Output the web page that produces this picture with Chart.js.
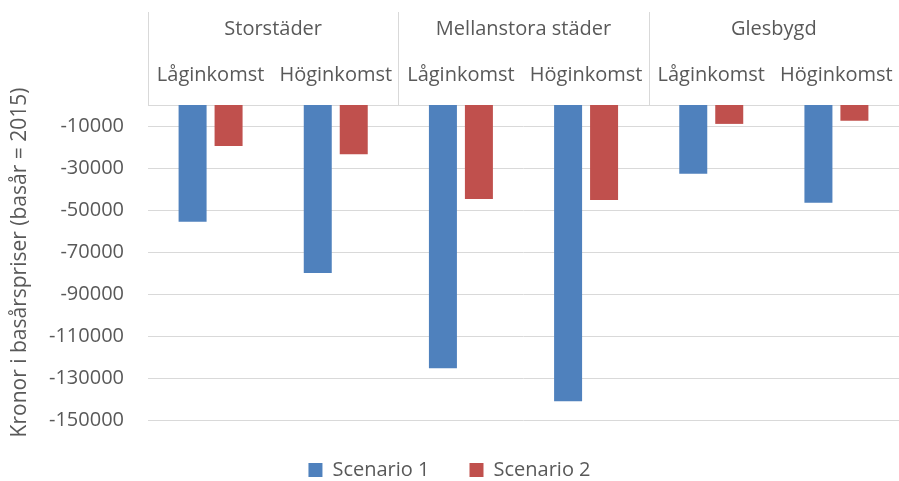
<!DOCTYPE html>
<html>
<head>
<meta charset="utf-8">
<script src="https://cdn.jsdelivr.net/npm/chart.js@4/dist/chart.umd.min.js"></script>
<style>
  html, body { margin: 0; padding: 0; background: #fff; }
  #wrap { width: 899px; height: 481px; }
</style>
</head>
<body>
<div id="wrap"><canvas id="chartIncome"></canvas></div>
<script>
// data
var groups = ["Storstäder", "Mellanstora städer", "Glesbygd"];
var incomeLevels = ["Låginkomst", "Höginkomst", "Låginkomst", "Höginkomst", "Låginkomst", "Höginkomst"];
var scenario1 = [-55600, -80000, -125400, -141100, -32700, -46500];
var scenario2 = [-19500, -23500, -44800, -45200, -9000, -7500];
var yTicks = [-150000, -130000, -110000, -90000, -70000, -50000, -30000, -10000];

var textColor = "#595959";
var gridColor = "#D9D9D9";
var font = { family: "'Open Sans', 'Noto Sans', sans-serif", size: 20 };

// vertical separators between the groups in the top axis (none on the far right)
var groupLines = {
  id: "groupLines",
  afterDraw: function (chart) {
    var x = chart.scales.x, x2 = chart.scales.x2;
    var c = chart.ctx;
    var step = (x.right - x.left) / incomeLevels.length;
    c.save();
    c.strokeStyle = gridColor;
    c.lineWidth = 1;
    for (var g = 0; g < groups.length; g++) {
      var px = Math.round(x.left + step * 2 * g) + 0.5;
      c.beginPath();
      c.moveTo(px, x2.top - 1);
      c.lineTo(px, x.bottom);
      c.stroke();
    }
    c.restore();
  }
};

function noSidePadding(scale) {
  scale.paddingLeft = 0;
  scale.paddingRight = 0;
}

var ctx = document.getElementById("chartIncome").getContext("2d");
var myChart = new Chart(ctx, {
  type: "bar",
  plugins: [groupLines],
  data: {
    labels: incomeLevels,
    datasets: [
      {
        label: "Scenario 1",
        backgroundColor: "#4F81BD",
        borderWidth: 0,
        data: scenario1,
        categoryPercentage: 0.575,
        barPercentage: 0.778
      },
      {
        label: "Scenario 2",
        backgroundColor: "#C0504D",
        borderWidth: 0,
        data: scenario2,
        categoryPercentage: 0.575,
        barPercentage: 0.778
      }
    ]
  },
  options: {
    responsive: true,
    maintainAspectRatio: false,
    animation: false,
    layout: { padding: { top: 13, left: 0, right: 0, bottom: -9 } },
    plugins: {
      tooltip: { enabled: false },
      legend: {
        position: "bottom",
        labels: {
          boxWidth: 14,
          boxHeight: 14,
          padding: 40,
          color: textColor,
          font: font
        }
      }
    },
    scales: {
      x: {
        type: "category",
        position: "top",
        weight: 1,
        afterFit: noSidePadding,
        grid: { display: false, drawTicks: false },
        border: { display: true, color: gridColor, width: 1 },
        ticks: { color: textColor, font: font, padding: 18, maxRotation: 0, autoSkip: false }
      },
      x2: {
        type: "category",
        position: "top",
        weight: 2,
        labels: groups,
        offset: true,
        afterFit: noSidePadding,
        grid: { display: false, drawTicks: false },
        border: { display: false },
        ticks: { color: textColor, font: font, padding: 4, maxRotation: 0, autoSkip: false }
      },
      y: {
        min: -150000,
        max: 0,
        afterBuildTicks: function (scale) {
          scale.ticks = yTicks.map(function (v) { return { value: v }; });
        },
        afterFit: function (scale) { scale.width = 148; },
        grid: { color: gridColor, lineWidth: 1, drawTicks: false },
        border: { display: false },
        ticks: {
          color: textColor,
          font: font,
          padding: 24,
          callback: function (v) { return String(v); }
        },
        title: {
          display: true,
          text: "Kronor i basårspriser (basår = 2015)",
          color: textColor,
          font: { family: font.family, size: 21 },
          padding: { top: 7, bottom: 0 }
        }
      }
    }
  }
});
</script>
</body>
</html>
